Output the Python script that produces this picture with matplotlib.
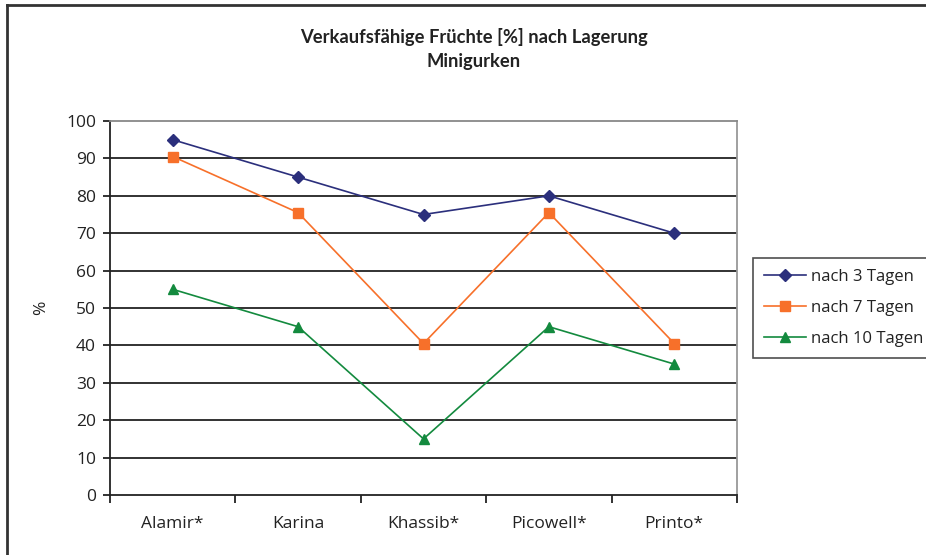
import matplotlib
matplotlib.use("Agg")
import matplotlib.pyplot as plt
from matplotlib.lines import Line2D
import numpy as np

plt.rcParams['font.family'] = ['Open Sans', 'DejaVu Sans']

categories = ["Alamir*", "Karina", "Khassib*", "Picowell*", "Printo*"]
nach_3 = [95, 85, 75, 80, 70]
nach_7 = [90.5, 75.5, 40.5, 75.5, 40.5]
nach_10 = [55, 45, 15, 45, 35]
series_labels = ["nach 3 Tagen", "nach 7 Tagen", "nach 10 Tagen"]
yticks = list(range(0, 101, 10))

fig = plt.figure(figsize=(9.26, 5.55), dpi=100)
ax = fig.add_axes([110/926, 60/555, 627/926, 374/555])

x = np.arange(len(categories))
ax.plot(x, nach_3, color="#2B2F7C", marker="D", markersize=6.5, lw=1.2, label=series_labels[0], zorder=3)
ax.plot(x, nach_7, color="#F7702A", marker="s", markersize=6.5, lw=1.2, label=series_labels[1], zorder=3)
ax.plot(x, nach_10, color="#138A3E", marker="^", markersize=7, lw=1.2, label=series_labels[2], zorder=3)

ax.set_xlim(-0.5, len(categories) - 0.5)
ax.set_ylim(0, 100)
ax.set_yticks(yticks)
ax.set_yticklabels([str(v) for v in yticks], fontsize=12.5, color="#222222")
ax.set_xticks(x)
ax.set_xticklabels(categories, fontsize=12.5, color="#222222")
ax.set_xticks(np.arange(-0.5, len(categories)), minor=True)
ax.tick_params(axis='x', which='major', length=0, pad=15)
ax.tick_params(axis='x', which='minor', length=6, width=1.3, direction='out', color="#222222")
ax.tick_params(axis='y', length=5, width=1.3, direction='out', color="#222222", pad=5)

for v in yticks[1:-1]:
    ax.axhline(v, color="#222222", lw=1.3, zorder=1)

ax.spines['left'].set_color("#222222")
ax.spines['left'].set_linewidth(1.3)
ax.spines['bottom'].set_color("#222222")
ax.spines['bottom'].set_linewidth(1.3)
ax.spines['top'].set_color("#888888")
ax.spines['top'].set_linewidth(1.3)
ax.spines['right'].set_color("#999999")
ax.spines['right'].set_linewidth(1.3)

ax.set_ylabel("%", fontsize=12.5, color="#222222")
ax.yaxis.set_label_coords((49 - 110) / 627, 0.5)

fig.text(474/926, 1 - 37/555, "Verkaufsfähige Früchte [%] nach Lagerung", ha='center', va='center',
         fontsize=13.2, fontweight='bold', color="#222222", family=['Lato', 'DejaVu Sans'])
fig.text(474/926, 1 - 61/555, "Minigurken", ha='center', va='center',
         fontsize=13.2, fontweight='bold', color="#222222", family=['Lato', 'DejaVu Sans'])

leg = fig.legend(loc='upper left', bbox_to_anchor=(753/926, 1 - 258/555), fontsize=12,
                 frameon=True, fancybox=False, edgecolor="#222222", handlelength=2.5,
                 borderpad=0.65, labelspacing=0.9, handletextpad=0.35, borderaxespad=0)
leg.get_frame().set_linewidth(1.2)
for t in leg.get_texts():
    t.set_color("#222222")

fig.add_artist(Line2D([7/926, 7/926], [0, 1 - 5/555], transform=fig.transFigure,
                      color="#333333", lw=2))
fig.add_artist(Line2D([7/926, 1], [1 - 5/555, 1 - 5/555], transform=fig.transFigure,
                      color="#333333", lw=2))

fig.savefig("out.png", dpi=100)
